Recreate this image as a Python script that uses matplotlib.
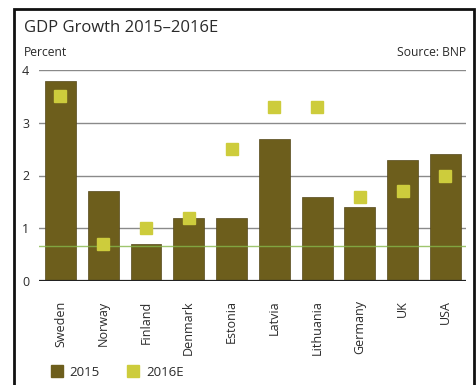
import matplotlib
matplotlib.use("Agg")
import matplotlib.pyplot as plt
from matplotlib.patches import Rectangle
from matplotlib.lines import Line2D

plt.rcParams['font.family'] = ['Open Sans', 'DejaVu Sans']

countries = ["Sweden", "Norway", "Finland", "Denmark", "Estonia",
             "Latvia", "Lithuania", "Germany", "UK", "USA"]
growth_2015 = [3.8, 1.7, 0.7, 1.2, 1.2, 2.7, 1.6, 1.4, 2.3, 2.4]
growth_2016e = [3.5, 0.7, 1.0, 1.2, 2.5, 3.3, 3.3, 1.6, 1.7, 2.0]
y_ticks = [0, 1, 2, 3, 4]
reference_level = 0.66

bar_color = "#6d5e1c"
marker_color = "#cdcc3c"
grid_color = "#8a8a8a"
text_color = "#2a2a2a"

W, H = 476, 385
fig = plt.figure(figsize=(W / 100, H / 100), dpi=100)
fig.patch.set_facecolor("white")

# outer frame
fig.patches.append(Rectangle((14 / W, -0.02), (474 - 14) / W, 1 - 9 / H + 0.02,
                             transform=fig.transFigure, fill=False,
                             edgecolor="#111111", linewidth=2.0, zorder=0))

ax = fig.add_axes([39 / W, 1 - 281 / H, (466 - 39) / W, (281 - 70) / H])
x = list(range(len(countries)))

for yv in y_ticks[1:]:
    ax.axhline(yv, color=grid_color, linewidth=1.0, zorder=1)

ax.bar(x, growth_2015, width=0.72, color=bar_color, edgecolor="#54471a",
       linewidth=0.5, zorder=2)
ax.axhline(reference_level, color="#86b84a", linewidth=1.0, alpha=0.8, zorder=3)
ax.plot(x, growth_2016e, linestyle="none", marker="s", markersize=8.6,
        markerfacecolor=marker_color, markeredgecolor=marker_color, zorder=4)
ax.axhline(0, color="#222222", linewidth=1.6, zorder=5)

ax.set_xlim(-0.5, 9.48)
ax.set_ylim(0, 4)
ax.set_yticks(y_ticks)
ax.set_yticklabels([str(v) for v in y_ticks], fontsize=9, color=text_color)
ax.set_xticks(x)
ax.set_xticklabels(countries, rotation=90, fontsize=9, color=text_color)
ax.tick_params(axis="x", length=0, pad=14)
ax.tick_params(axis="y", length=0, pad=7)
for s in ax.spines.values():
    s.set_visible(False)

fig.text(24 / W, 1 - 32 / H, "GDP Growth 2015\u20132016E", fontsize=12,
         color=text_color, va="baseline", ha="left")
fig.text(24 / W, 1 - 56 / H, "Percent", fontsize=8.7, color=text_color,
         va="baseline", ha="left")
fig.text(466 / W, 1 - 56 / H, "Source: BNP", fontsize=8.7, color=text_color,
         va="baseline", ha="right")

# legend
handles = [Line2D([], [], linestyle="none", marker="s", markersize=9.3,
                  markerfacecolor=bar_color, markeredgecolor=bar_color),
           Line2D([], [], linestyle="none", marker="s", markersize=9.3,
                  markerfacecolor=marker_color, markeredgecolor=marker_color)]
fig.legend(handles, ["2015", "2016E"], loc="center left",
           bbox_to_anchor=(50 / W, 1 - 372 / H), ncol=2, frameon=False,
           fontsize=9.5, handlelength=1.0, handletextpad=0.5, columnspacing=2.0,
           borderpad=0, borderaxespad=0, labelcolor=text_color)

fig.savefig("out.png", dpi=100, facecolor="white")
